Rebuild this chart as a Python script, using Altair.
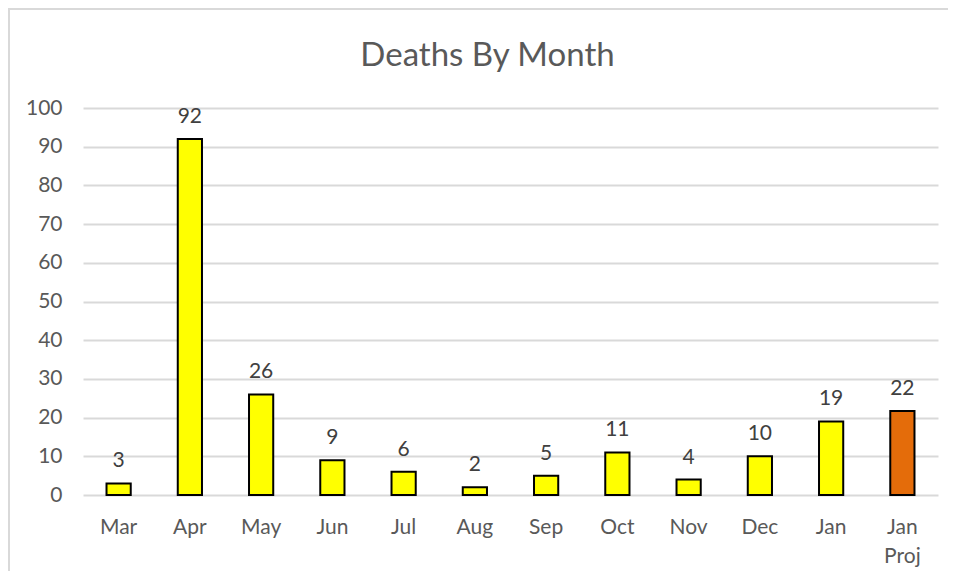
import altair as alt
import pandas as pd

months = ["Mar", "Apr", "May", "Jun", "Jul", "Aug", "Sep", "Oct", "Nov", "Dec", "Jan", "Jan Proj"]
deaths = [3, 92, 26, 9, 6, 2, 5, 11, 4, 10, 19, 21.7]
series = ["Actual"] * 11 + ["Projected"]
y_ticks = list(range(0, 101, 10))

df = pd.DataFrame({"month": months, "deaths": deaths, "series": series})

FONT = "Lato"
LABEL_COLOR = "#595959"

base = alt.Chart(df).encode(
    x=alt.X(
        "month:N",
        sort=months,
        scale=alt.Scale(paddingInner=0.66, paddingOuter=0.33),
        axis=alt.Axis(
            title=None,
            labelExpr="split(datum.label, ' ')",
            labelAngle=0,
            domain=False,
            ticks=False,
            grid=False,
            labelPadding=21,
            labelFontSize=21,
            labelFont=FONT,
            labelColor=LABEL_COLOR,
            labelLineHeight=29,
        ),
    ),
    y=alt.Y(
        "deaths:Q",
        scale=alt.Scale(domain=[0, 100], nice=False),
        axis=alt.Axis(
            title=None,
            values=y_ticks,
            domain=False,
            ticks=False,
            gridColor="#d9d9d9",
            gridWidth=2,
            labelPadding=21,
            labelFontSize=21,
            labelFont=FONT,
            labelColor=LABEL_COLOR,
        ),
    ),
)

bars = base.mark_bar(stroke="black", strokeWidth=2).encode(
    color=alt.Color(
        "series:N",
        scale=alt.Scale(domain=["Actual", "Projected"], range=["#FFFF00", "#E46C0A"]),
        legend=None,
    )
)

labels = base.mark_text(
    dy=-16, baseline="alphabetic", fontSize=21, font=FONT, color="#404040"
).encode(text=alt.Text("deaths:Q", format=".0f"))

border_df = pd.DataFrame({"k": [0]})
border_top = alt.Chart(border_df).mark_rule(color="#d9d9d9", strokeWidth=2).encode(
    x=alt.value(-75), x2=alt.value(870), y=alt.value(-99)
)
border_left = alt.Chart(border_df).mark_rule(color="#d9d9d9", strokeWidth=2).encode(
    x=alt.value(-74), y=alt.value(-100), y2=alt.value(480)
)

chart = (
    alt.layer(border_top, border_left, bars, labels)
    .properties(
        width=855,
        height=387,
        title=alt.TitleParams(
            "Deaths By Month",
            fontSize=33,
            font=FONT,
            color=LABEL_COLOR,
            fontWeight="normal",
            anchor="middle",
            frame="group",
            baseline="alphabetic",
            offset=-92,
            dx=-23,
        ),
        autosize=alt.AutoSizeParams(type="none"),
        padding={"left": 75, "top": 100, "right": 10, "bottom": 76},
    )
    .configure_view(stroke=None)
)

chart.save("out.html", embed_options={"renderer": "svg", "actions": False})
